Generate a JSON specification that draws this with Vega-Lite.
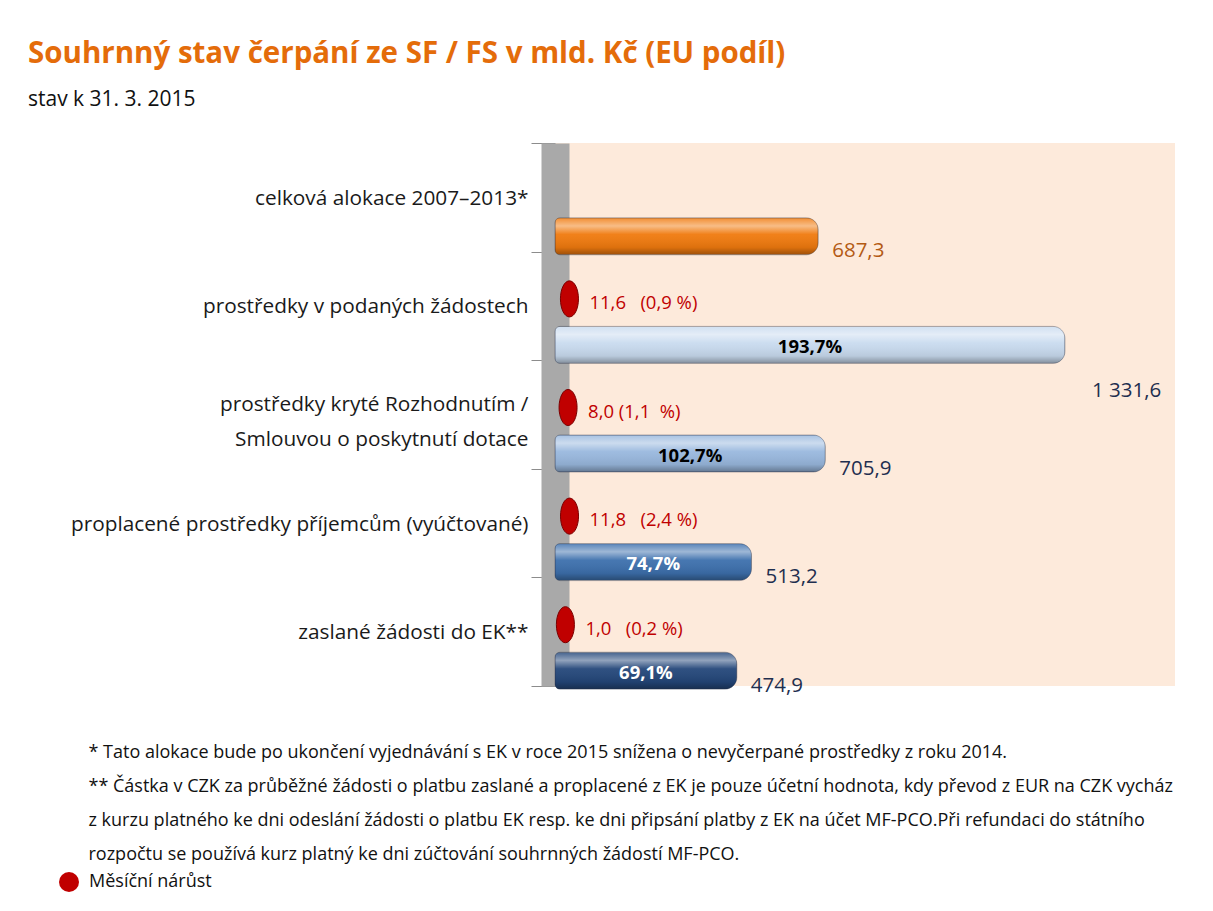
{
  "$schema": "https://vega.github.io/schema/vega-lite/v6.json",
  "width": 620,
  "height": 543,
  "autosize": {"type": "none"},
  "padding": {"left": 555, "top": 143, "right": 38, "bottom": 225},
  "background": "white",
  "config": {
    "font": "Open Sans",
    "view": {"fill": "#FDEADB", "stroke": null}
  },
  "title": {
    "text": "Souhrnný stav čerpání ze SF / FS v mld. Kč (EU podíl)",
    "subtitle": "stav k 31. 3. 2015",
    "anchor": "start",
    "frame": "group",
    "dx": -527,
    "offset": 21,
    "font": "Open Sans",
    "fontSize": 29.5,
    "fontWeight": "bold",
    "color": "#E46C0A",
    "subtitleFont": "Open Sans",
    "subtitleFontSize": 21,
    "subtitleColor": "#111111",
    "subtitlePadding": 20
  },
  "data": {
    "values": [
      {"cat": "celková alokace 2007–2013*", "value": 687.3, "label": "687,3", "pct": null, "growth": null, "growthLabel": null, "series": "Měsíční nárůst"},
      {"cat": "prostředky v podaných žádostech", "value": 1331.6, "label": "1 331,6", "pct": "193,7%", "growth": 11.6, "growthLabel": "11,6\u00a0\u00a0\u00a0(0,9 %)", "series": "Měsíční nárůst"},
      {"cat": "prostředky kryté Rozhodnutím /|Smlouvou o poskytnutí dotace", "value": 705.9, "label": "705,9", "pct": "102,7%", "growth": 8.0, "growthLabel": "8,0 (1,1\u00a0\u00a0%)", "series": "Měsíční nárůst"},
      {"cat": "proplacené prostředky příjemcům (vyúčtované)", "value": 513.2, "label": "513,2", "pct": "74,7%", "growth": 11.8, "growthLabel": "11,8\u00a0\u00a0\u00a0(2,4 %)", "series": "Měsíční nárůst"},
      {"cat": "zaslané žádosti do EK**", "value": 474.9, "label": "474,9", "pct": "69,1%", "growth": 1.0, "growthLabel": "1,0\u00a0\u00a0\u00a0(0,2 %)", "series": "Měsíční nárůst"}
    ]
  },
  "encoding": {
    "y": {
      "field": "cat",
      "type": "nominal",
      "sort": null,
      "scale": {"paddingInner": 0, "paddingOuter": 0},
      "axis": {
        "title": null,
        "labelExpr": "isValid(datum.value) ? split(datum.value, '|') : ''",
        "labelFontSize": 20.8,
        "labelColor": "#1a1a1a",
        "labelLineHeight": 35,
        "labelPadding": 3,
        "labelLimit": 700,
        "labelOffset": {"condition": {"test": "isValid(datum.value) && indexof(datum.value, '|') >= 0", "value": -10}, "value": 1},
        "tickBand": "extent",
        "tickSize": 24,
        "tickColor": "#8c8c8c",
        "domainColor": "#A9A9A9",
        "domainWidth": 28
      }
    }
  },
  "layer": [
    {
      "mark": {"type": "bar", "size": 37, "yOffset": 39, "cornerRadiusEnd": 12, "cornerRadiusTopLeft": 5, "cornerRadiusBottomLeft": 5},
      "encoding": {
        "x": {
          "field": "value",
          "type": "quantitative",
          "scale": {"domain": [0, 1619], "nice": false},
          "axis": {
            "labels": false,
            "ticks": false,
            "domain": false,
            "grid": false,
            "title": [
              "* Tato alokace bude po ukončení vyjednávání s EK v roce 2015 snížena o nevyčerpané prostředky z roku 2014.",
              "** Částka v CZK za průběžné žádosti o platbu zaslané a proplacené z EK je pouze účetní hodnota, kdy převod z EUR na CZK vycház",
              "z kurzu platného ke dni odeslání žádosti o platbu EK resp. ke dni připsání platby z EK na účet MF-PCO.Při refundaci do státního",
              "rozpočtu se používá kurz platný ke dni zúčtování souhrnných žádostí MF-PCO."
            ],
            "titleX": -467,
            "titleY": 71,
            "titleAnchor": null,
            "titleAlign": "left",
            "titleAngle": 0,
            "titleBaseline": "alphabetic",
            "titleFontSize": 18,
            "titleFontWeight": "normal",
            "titleColor": "#111111",
            "titleLineHeight": 34,
            "titleLimit": 3000
          }
        },
        "color": {
          "field": "cat",
          "type": "nominal",
          "legend": null,
          "scale": {
            "domain": ["celková alokace 2007–2013*", "prostředky v podaných žádostech", "prostředky kryté Rozhodnutím /|Smlouvou o poskytnutí dotace", "proplacené prostředky příjemcům (vyúčtované)", "zaslané žádosti do EK**"],
            "range": ["#F07A0E", "#C9DBEF", "#99B8DE", "#3D70AD", "#24477A"]
          }
        }
      }
    },
    {
      "mark": {"type": "bar", "size": 37, "yOffset": 39, "cornerRadiusEnd": 12, "cornerRadiusTopLeft": 5, "cornerRadiusBottomLeft": 5,
        "stroke": "rgba(40,50,70,0.35)", "strokeWidth": 1,
        "fill": {"gradient": "linear", "x1": 0, "y1": 0, "x2": 0, "y2": 1,
          "stops": [
            {"offset": 0, "color": "rgba(255,255,255,0.15)"},
            {"offset": 0.22, "color": "rgba(255,255,255,0.5)"},
            {"offset": 0.45, "color": "rgba(255,255,255,0.05)"},
            {"offset": 0.8, "color": "rgba(0,0,0,0.08)"},
            {"offset": 1, "color": "rgba(0,0,0,0.35)"}
          ]}},
      "encoding": {"x": {"field": "value", "type": "quantitative"}}
    },
    {
      "transform": [{"filter": "datum.growth != null"}],
      "mark": {"type": "point", "filled": true, "xOffset": 10, "yOffset": -7, "strokeWidth": 1, "stroke": "#7a0000", "opacity": 1,
        "shape": "M0,-1A0.5,1 0 1,1 0,1A0.5,1 0 1,1 0,-1Z", "size": 1300},
      "encoding": {
        "x": {"field": "growth", "type": "quantitative"},
        "fill": {
          "field": "series",
          "type": "nominal",
          "scale": {"range": ["#C00000"]},
          "legend": {
            "title": null,
            "orient": "none",
            "legendX": -496,
            "legendY": 729,
            "symbolType": "circle",
            "symbolSize": 400,
            "symbolStrokeWidth": 0,
            "labelFontSize": 18,
            "labelColor": "#111111",
            "labelOffset": 10
          }
        }
      }
    },
    {
      "transform": [{"filter": "datum.growth != null"}],
      "mark": {"type": "text", "align": "left", "baseline": "middle", "dx": 30, "yOffset": -3, "fontSize": 18.5, "color": "#C00000"},
      "encoding": {
        "x": {"field": "growth", "type": "quantitative"},
        "text": {"field": "growthLabel"}
      }
    },
    {
      "transform": [{"filter": "datum.value < 1000"}],
      "mark": {"type": "text", "align": "left", "baseline": "middle", "dx": 14, "yOffset": 54, "fontSize": 20.5},
      "encoding": {
        "x": {"field": "value", "type": "quantitative"},
        "text": {"field": "label"},
        "color": {"condition": {"test": "datum.pct == null", "value": "#B35A14"}, "value": "#1F2F4F"}
      }
    },
    {
      "transform": [{"filter": "datum.value >= 1000"}],
      "mark": {"type": "text", "align": "left", "baseline": "middle", "dx": 27, "yOffset": 85, "fontSize": 20.5, "color": "#1F2F4F"},
      "encoding": {
        "x": {"field": "value", "type": "quantitative"},
        "text": {"field": "label"}
      }
    },
    {
      "transform": [{"filter": "datum.pct != null"}, {"calculate": "datum.value / 2", "as": "mid"}],
      "mark": {"type": "text", "align": "center", "baseline": "middle", "yOffset": 41, "fontSize": 18.5, "fontWeight": "bold"},
      "encoding": {
        "x": {"field": "mid", "type": "quantitative"},
        "text": {"field": "pct"},
        "color": {"condition": {"test": "datum.value < 600", "value": "white"}, "value": "black"}
      }
    }
  ]
}
